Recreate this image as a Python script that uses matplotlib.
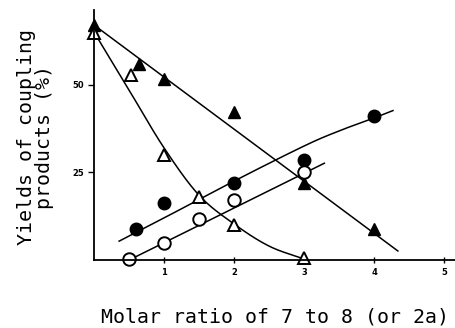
import numpy as np
import matplotlib
matplotlib.use("Agg")
import matplotlib.pyplot as plt

# data
tri_fill_x = [0.0, 0.64, 1.0, 2.0, 3.0, 4.0]
tri_fill_y = [67.0, 56.0, 51.7, 42.3, 22.0, 8.8]
tri_fill_fit_x = [0.0, 4.34]
tri_fill_fit_y = [67.0, 2.6]

tri_open_x = [0.0, 0.53, 1.0, 1.5, 2.0, 3.0]
tri_open_y = [64.8, 52.8, 30.0, 18.0, 10.0, 0.5]
tri_open_fit_x = [0.0, 0.5, 1.0, 1.5, 2.0, 2.5, 3.0]
tri_open_fit_y = [65.0, 48.5, 32.0, 18.5, 10.3, 4.0, 0.3]

circ_fill_x = [0.6, 1.0, 2.0, 3.0, 4.0]
circ_fill_y = [8.8, 16.2, 22.0, 28.4, 41.0]
circ_fill_fit_x = [0.36, 1.0, 2.0, 3.0, 3.5, 4.0, 4.27]
circ_fill_fit_y = [5.4, 12.0, 22.5, 32.5, 36.8, 40.5, 42.6]

circ_open_x = [0.5, 1.0, 1.5, 2.0, 3.0]
circ_open_y = [0.3, 5.0, 11.6, 17.0, 25.0]
circ_open_fit_x = [0.5, 3.29]
circ_open_fit_y = [0.0, 27.6]

x_ticks = [1, 2, 3, 4, 5]
y_ticks = [25, 50]


def spline(xs, ys, n=30):
    # Catmull-Rom through the hand-read curve points
    p = np.column_stack([xs, ys]).astype(float)
    p = np.vstack([2 * p[0] - p[1], p, 2 * p[-1] - p[-2]])
    t = np.linspace(0, 1, n)[:, None]
    out = []
    for i in range(1, len(p) - 2):
        p0, p1, p2, p3 = p[i - 1], p[i], p[i + 1], p[i + 2]
        seg = 0.5 * ((2 * p1) + (-p0 + p2) * t + (2 * p0 - 5 * p1 + 4 * p2 - p3) * t ** 2
                     + (-p0 + 3 * p1 - 3 * p2 + p3) * t ** 3)
        out.append(seg)
    out = np.vstack(out)
    return out[:, 0], out[:, 1]


fig = plt.figure(figsize=(4.56, 3.28), dpi=100)
ax = fig.add_axes([0.206, 0.207, 0.794, 0.763])

lw = 1.1
ax.plot(tri_fill_fit_x, tri_fill_fit_y, color="black", lw=lw)
xx, yy = spline(tri_open_fit_x, tri_open_fit_y)
ax.plot(xx, yy, color="black", lw=lw)
xx, yy = spline(circ_fill_fit_x, circ_fill_fit_y)
ax.plot(xx, yy, color="black", lw=lw)
ax.plot(circ_open_fit_x, circ_open_fit_y, color="black", lw=lw)

ax.plot(tri_fill_x, tri_fill_y, "^", ms=9, color="black", clip_on=False)
ax.plot(tri_open_x, tri_open_y, "^", ms=9, mfc="white", mec="black", mew=1.4, clip_on=False)
ax.plot(circ_fill_x, circ_fill_y, "o", ms=9, color="black", clip_on=False)
ax.plot(circ_open_x, circ_open_y, "o", ms=9, mfc="white", mec="black", mew=1.4, clip_on=False)

ax.set_xlim(0, 5.17)
ax.set_ylim(0, 71.3)
ax.spines["top"].set_visible(False)
ax.spines["right"].set_visible(False)
for s in ("left", "bottom"):
    ax.spines[s].set_linewidth(1.3)

ax.set_xticks(x_ticks)
ax.set_xticklabels([str(t) for t in x_ticks], fontsize=6, fontweight="bold")
ax.set_yticks(y_ticks)
ax.set_yticklabels([str(t) for t in y_ticks], fontsize=6, fontweight="bold")
ax.tick_params(axis="x", direction="inout", length=5, width=1, pad=3)
ax.tick_params(axis="y", direction="out", length=4, width=1, pad=3)

ax.set_xlabel("Molar ratio of 7 to 8 (or 2a)", family="DejaVu Sans Mono",
              fontsize=14.3, labelpad=22)
ax.set_ylabel("Yields of coupling\nproducts (%)", family="DejaVu Sans Mono",
              fontsize=14.3, linespacing=0.95)
ax.yaxis.set_label_coords(-0.11, 0.49)

fig.savefig("out.png", dpi=100)
